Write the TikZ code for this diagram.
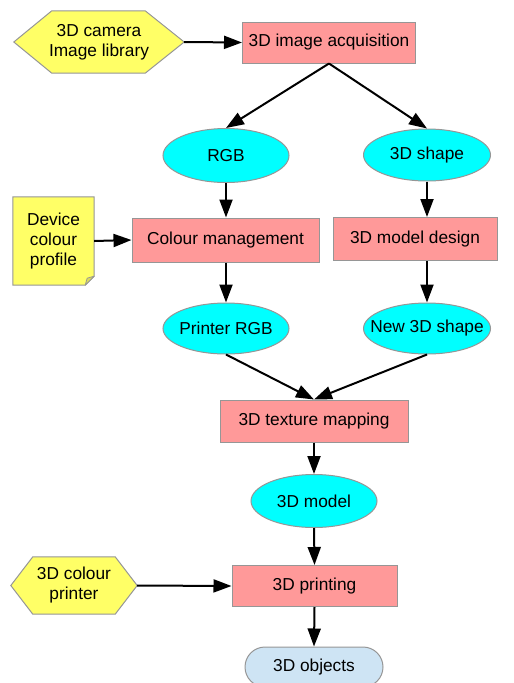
\documentclass[tikz,border=0pt]{standalone}
\usepackage{fontspec}
\setmainfont{Liberation Sans}
\usetikzlibrary{arrows.meta,shapes.geometric,shapes.misc,calc,backgrounds}
\definecolor{pinkfill}{RGB}{255,153,153}
\definecolor{cyanfill}{RGB}{0,255,255}
\definecolor{yellowfill}{RGB}{255,255,102}
\definecolor{foldfill}{RGB}{220,220,90}
\definecolor{bluefill}{RGB}{206,228,244}
\definecolor{bordergray}{RGB}{150,150,150}
\begin{document}
\begin{tikzpicture}[x=1pt,y=-1pt,
  every node/.style={font=\fontsize{17.3}{20}\selectfont, inner sep=0pt, align=center},
  procbox/.style={rectangle, draw=bordergray, line width=1pt, fill=pinkfill},
  dataell/.style={ellipse, draw=bordergray, line width=1pt, fill=cyanfill, inner xsep=-28pt, inner ysep=-8pt, minimum width=126pt, minimum height=52pt},
  hexbox/.style={rectangle},
  hexdraw/.style={draw=bordergray, line width=1pt, fill=yellowfill},
  notebox/.style={rectangle},
  capsule/.style={rounded rectangle, draw=bordergray, line width=1pt, fill=bluefill},
  flow/.style={line width=2pt, -{Triangle[length=18pt,width=13pt]}}
]
\useasboundingbox (0,0) rectangle (514,683);

% nodes
\node[hexbox, minimum width=170pt, minimum height=62pt] (cam) at (99,42) {3D camera\\Image library};
\node[procbox, minimum width=173pt, minimum height=41pt] (acq) at (329,42.5) {3D image acquisition};
\node[dataell, minimum height=54pt] (rgb) at (226,155.5) {RGB};
\node[dataell, minimum width=127pt] (shp) at (427,155) {3D shape};
\node[notebox, minimum width=81pt, minimum height=88pt] (note) at (53.5,241) {Device\\colour\\profile};
\node[procbox, minimum width=187pt, minimum height=44pt] (cm) at (225.5,240) {Colour management};
\node[procbox, minimum width=164pt, minimum height=43pt] (mdd) at (415,239) {3D model design};
\node[dataell, minimum height=51pt] (prgb) at (226,328.5) {Printer RGB};
\node[dataell, minimum width=127pt, minimum height=51pt] (nshp) at (427,328.5) {New 3D shape};
\node[procbox, minimum width=188pt, minimum height=42pt] (tex) at (314,421) {3D texture mapping};
\node[dataell, minimum height=53pt] (model) at (314,501) {3D model};
\node[hexbox, minimum width=126pt, minimum height=57pt] (prn) at (74,585.5) {3D colour\\printer};
\node[procbox, minimum width=165pt, minimum height=41pt] (prt) at (314.5,586) {3D printing};
\node[capsule, minimum width=138pt, minimum height=40pt] (obj) at (314,667) {3D objects};

% shapes behind text
\begin{scope}[on background layer]
  \path[hexdraw] (cam.west) -- ($(cam.north west)+(38,0)$) -- ($(cam.north east)+(-39,0)$)
     -- (cam.east) -- ($(cam.south east)+(-39,0)$) -- ($(cam.south west)+(38,0)$) -- cycle;
  \path[hexdraw] (prn.west) -- ($(prn.north west)+(22,0)$) -- ($(prn.north east)+(-22,0)$)
     -- (prn.east) -- ($(prn.south east)+(-22,0)$) -- ($(prn.south west)+(22,0)$) -- cycle;
  \path[hexdraw] (note.north west) -- (note.north east) -- ($(note.south east)+(0,-9)$)
     -- ($(note.south east)+(-9,0)$) -- (note.south west) -- cycle;
  \path[draw=bordergray, line width=0.8pt, fill=foldfill, line join=round]
     ($(note.south east)+(0,-9)$) -- ($(note.south east)+(-9,0)$) -- ($(note.south east)+(-7,-7)$) -- cycle;
\end{scope}

% connectors
\draw[flow] (cam.east) -- (acq.west);
\draw[flow] (acq.south) -- (rgb.north);
\draw[flow] (acq.south) -- (shp.north);
\draw[flow] (rgb.south) -- (rgb.south |- cm.north);
\draw[flow] (shp.south) -- (shp.south |- mdd.north);
\draw[flow] (note.east) -- (cm.west);
\draw[flow] (prgb.north |- cm.south) -- (prgb.north);
\draw[flow] (nshp.north |- mdd.south) -- (nshp.north);
\draw[flow] (prgb.south) -- (tex.north);
\draw[flow] (nshp.south) -- (tex.north);
\draw[flow] (tex.south) -- (model.north);
\draw[flow] (model.south) -- (prt.north);
\draw[flow] (prn.east) -- (prt.west);
\draw[flow] (prt.south) -- (obj.north);
\end{tikzpicture}
\end{document}
